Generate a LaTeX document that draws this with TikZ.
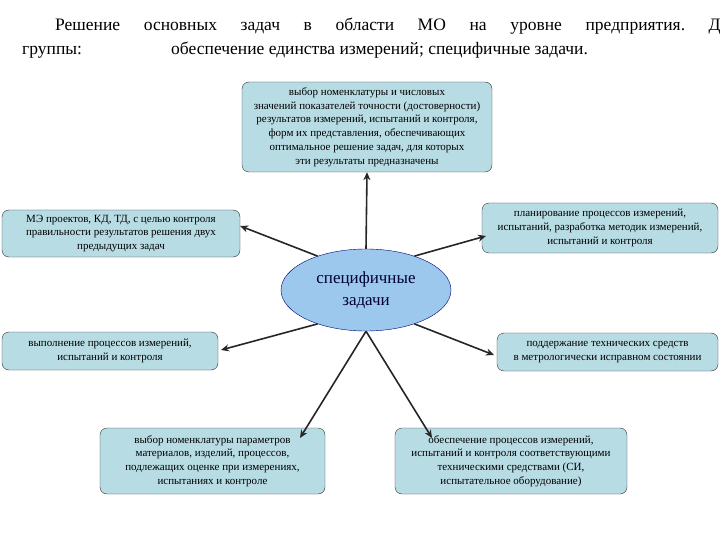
\documentclass[tikz,border=0pt]{standalone}
\usepackage{fontspec}
\setmainfont{Liberation Serif}
\usetikzlibrary{shapes.geometric,arrows.meta}
\begin{document}
\begin{tikzpicture}[x=1pt,y=-1pt,
  bx/.style={draw=black!80,fill=boxc,rounded corners=7pt,align=center,font=\fontsize{11}{13.8}\selectfont,inner sep=1pt},
  ar/.style={-{Stealth[length=8pt,width=7pt]},line width=1.6pt,black!85}]
\definecolor{boxc}{HTML}{B8DCE4}
\definecolor{ellc}{HTML}{9CC8EE}
\useasboundingbox (0,0) rectangle (720,540);
\node[font=\fontsize{17.5}{20}\selectfont,anchor=west,inner sep=0] (t1) at (55,26) {Решение\hspace{1.35em}основных\hspace{1.35em}задач\hspace{1.35em}в\hspace{1.35em}области\hspace{1.35em}МО\hspace{1.35em}на\hspace{1.35em}уровне\hspace{1.35em}предприятия.\hspace{1.35em}Две};
\node[font=\fontsize{17.5}{20}\selectfont,anchor=west,inner sep=0] (t2) at (22,50) {группы:\hspace{5.1em}обеспечение единства измерений; специфичные задачи.};
\node[bx,minimum width=250,minimum height=90] (top) at (367,127) {выбор номенклатуры и числовых\\значений показателей точности (достоверности)\\результатов измерений, испытаний и контроля,\\форм их представления, обеспечивающих\\оптимальное решение задач, для которых\\эти результаты предназначены};
\node[bx,minimum width=238,minimum height=47] (me) at (121,233.5) {МЭ проектов, КД, ТД, с целью контроля\\правильности результатов решения двух\\предыдущих задач};
\node[bx,minimum width=236,minimum height=50] (pl) at (600,228) {планирование процессов измерений,\\испытаний, разработка методик измерений,\\испытаний и контроля};
\node[ellipse,draw=blue!45!black,fill=ellc,minimum width=170,minimum height=82,align=center,font=\fontsize{17}{22}\selectfont,text=blue!20!black] (e) at (366,290) {специфичные\\задачи};
\node[bx,minimum width=216,minimum height=38] (vy) at (110,351) {выполнение процессов измерений,\\испытаний и контроля};
\node[bx,minimum width=221,minimum height=38] (po) at (607.5,352) {поддержание технических средств\\в метрологически исправном состоянии};
\node[bx,minimum width=225,minimum height=66] (bl) at (212.5,461) {выбор номенклатуры параметров\\материалов, изделий, процессов,\\подлежащих оценке при измерениях,\\испытаниях и контроле};
\node[bx,minimum width=232,minimum height=66] (br) at (511,461) {обеспечение процессов измерений,\\испытаний и контроля соответствующими\\техническими средствами (СИ,\\испытательное оборудование)};
\draw[ar] (e.north) -- (top.south);
\draw[ar] (e.145) -- (me.east |- 0,226);
\coordinate (plc) at (486,236);
\draw[ar] (e.35) -- (plc);
\coordinate (vyc) at (221,350);
\draw[ar] (e.215) -- (vyc);
\coordinate (poc) at (494,355);
\draw[ar] (e.325) -- (poc);
\coordinate (blc) at (300,438);
\coordinate (brc) at (432,438);
\draw[ar] (e.south) -- (blc);
\draw[ar] (e.south) -- (brc);
\end{tikzpicture}
\end{document}
